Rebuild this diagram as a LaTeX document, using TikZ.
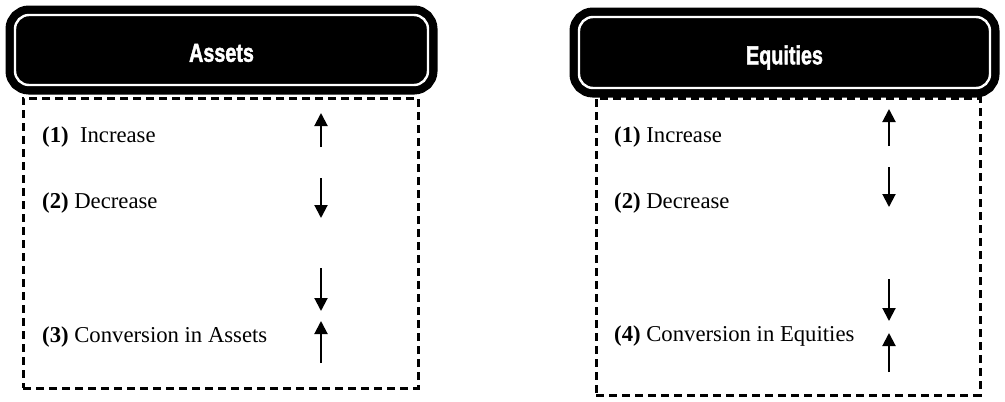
\documentclass[tikz,border=0pt]{standalone}
\usepackage{fontspec}
\setmainfont{Liberation Serif}
\newfontfamily\headfont[BoldFeatures={FakeBold=2}]{Liberation Sans}
\usetikzlibrary{positioning,arrows.meta}

\begin{document}
\begin{tikzpicture}[x=1pt, y=-1pt,
  head/.style={fill=black, draw=white, line width=2.4pt, rounded corners=14pt,
    preaction={draw=black, line width=19pt}, inner sep=0pt, text=white,
    text height=23.5pt, text depth=0pt,
    font=\headfont\bfseries\fontsize{26}{28}\selectfont},
  entrybox/.style={draw, dash pattern=on 8pt off 5pt, line width=3pt, inner sep=0pt},
  item/.style={anchor=base west, inner sep=0pt, font=\fontsize{22.7}{26}\selectfont},
  move/.style={-{Triangle[length=13pt,width=13pt]}, line width=2pt}]
\useasboundingbox (0,0) rectangle (1005,402);
% headers
\node[head, minimum width=413pt, minimum height=70pt] (assetsHead) at (221.5,50) {\scalebox{0.76}[1]{Assets}};
\node[head, minimum width=411pt, minimum height=71pt] (equitiesHead) at (784.5,52.5) {\scalebox{0.76}[1]{Equities}};
% dashed boxes
\node[entrybox, minimum width=395pt, minimum height=290pt] (assetsBox) at (220.5,243) {};
\node[entrybox, minimum width=384pt, minimum height=297pt] (equitiesBox) at (788,246.5) {};
% assets entries
\node[item] (aInc) at (42,142) {\textbf{(1)}\ \ Increase};
\node[item] (aDec) at (42,208) {\textbf{(2)} Decrease};
\node[item] (aConv) at (42,342) {\textbf{(3)} Conversion in Assets};
% equities entries
\node[item] (eInc) at (614,142) {\textbf{(1)} Increase};
\node[item] (eDec) at (614,208) {\textbf{(2)} Decrease};
\node[item] (eConv) at (614,341) {\textbf{(4)} Conversion in Equities};
% assets arrows
\coordinate (aUpS) at (321,147); \coordinate (aUpE) at (321,113);
\coordinate (aDnS) at (321,178); \coordinate (aDnE) at (321,218);
\coordinate (aCDnS) at (321,268); \coordinate (aCDnE) at (321,311);
\coordinate (aCUpS) at (321,363); \coordinate (aCUpE) at (321,321);
\draw[move] (aUpS) -- (aUpE); \draw[move] (aDnS) -- (aDnE);
\draw[move] (aCDnS) -- (aCDnE); \draw[move] (aCUpS) -- (aCUpE);
% equities arrows
\coordinate (eUpS) at (889,146); \coordinate (eUpE) at (889,109);
\coordinate (eDnS) at (889,167); \coordinate (eDnE) at (889,207);
\coordinate (eCDnS) at (889,279); \coordinate (eCDnE) at (889,321);
\coordinate (eCUpS) at (889,372); \coordinate (eCUpE) at (889,333);
\draw[move] (eUpS) -- (eUpE); \draw[move] (eDnS) -- (eDnE);
\draw[move] (eCDnS) -- (eCDnE); \draw[move] (eCUpS) -- (eCUpE);
\end{tikzpicture}
\end{document}
